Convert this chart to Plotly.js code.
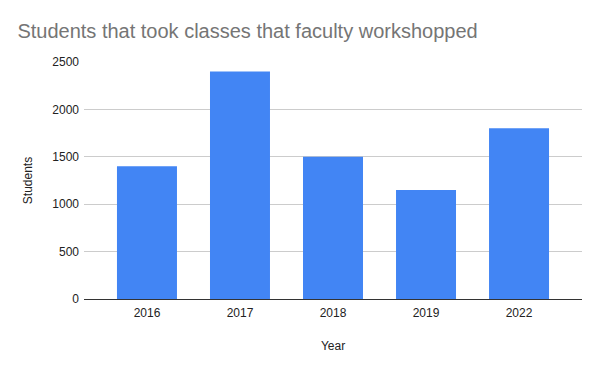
<!DOCTYPE html>
<html><head><meta charset="utf-8">
<script src="https://cdn.plot.ly/plotly-3.0.1.min.js"></script>
<style>html,body{margin:0;padding:0;background:#fff}#chart{width:600px;height:371px}</style>
</head><body><div id="chart"></div>
<script>
const years = ['2016', '2017', '2018', '2019', '2022'];
const students = [1400, 2400, 1500, 1150, 1800];
const yTicks = [0, 500, 1000, 1500, 2000, 2500];

const trace = {
  type: 'bar', x: years, y: students,
  marker: {color: '#4285f4'}, width: 0.645, hoverinfo: 'x+y'
};
const layout = {
  width: 600, height: 371,
  margin: {l: 84, r: 18, t: 62, b: 72},
  paper_bgcolor: '#fff', plot_bgcolor: '#fff',
  font: {family: 'Liberation Sans, Arial, sans-serif', size: 12, color: '#222'},
  title: {text: 'Students that took classes that faculty workshopped',
    font: {size: 20, color: '#757575'}, x: 0.029, xanchor: 'left',
    y: 1 - 30.5 / 371, yanchor: 'middle', yref: 'container'},
  xaxis: {type: 'category', range: [-0.677, 4.677], showgrid: false, ticks: '',
    showline: false, zeroline: false, ticklabelstandoff: 5,
    title: {text: 'Year', font: {size: 12, color: '#222'}, standoff: 22}},
  yaxis: {range: [0, 2500], tickvals: yTicks, ticktext: yTicks.map(String),
    gridcolor: '#cccccc', gridwidth: 1, zeroline: true, zerolinecolor: '#333', zerolinewidth: 1,
    ticks: '', ticklabelstandoff: 4,
    title: {text: 'Students', font: {size: 12, color: '#222'}, standoff: 17}},
  showlegend: false, bargap: 0.35
};
Plotly.newPlot('chart', [trace], layout, {displayModeBar: false, staticPlot: true});
</script></body></html>
